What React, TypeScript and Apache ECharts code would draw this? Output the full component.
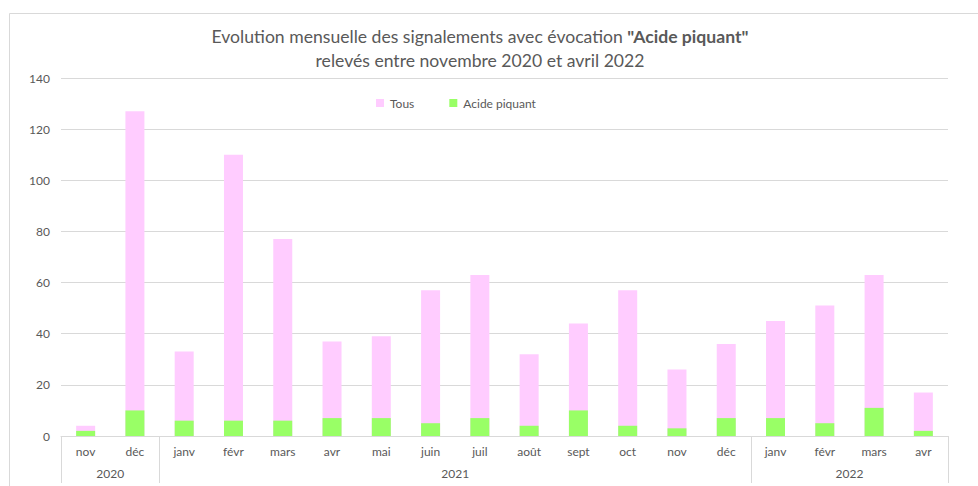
import React, { useEffect, useRef } from "react";
import * as echarts from "echarts";

const months = ["nov", "déc", "janv", "févr", "mars", "avr", "mai", "juin", "juil", "août", "sept", "oct", "nov", "déc", "janv", "févr", "mars", "avr"];
const yearLabels = ["2020", "2021", "2022"];
const yearSpans = [2, 12, 4];
const tousValues = [4, 127, 33, 110, 77, 37, 39, 57, 63, 32, 44, 57, 26, 36, 45, 51, 63, 17];
const acideValues = [2, 10, 6, 6, 6, 7, 7, 5, 7, 4, 10, 4, 3, 7, 7, 5, 11, 2];
const yTicks = { min: 0, max: 140, interval: 20 };

const FONT = "Lato, 'Liberation Sans', sans-serif";
const TEXT = "#595959";
const LINE = "#d9d9d9";

export default function App() {
  const ref = useRef<HTMLDivElement>(null);
  useEffect(() => {
    if (!ref.current) return;
    const chart = echarts.init(ref.current, undefined, { renderer: "svg" });
    const boundaries: number[] = [0];
    const centers: number[] = [];
    yearSpans.forEach((s) => {
      const start = boundaries[boundaries.length - 1];
      centers.push(start + s / 2);
      boundaries.push(start + s);
    });
    const total = months.length;
    chart.setOption({
      animation: false,
      textStyle: { fontFamily: FONT },
      title: {
        text: 'Evolution mensuelle des signalements avec évocation {b|"Acide piquant"}\nrelevés entre novembre 2020 et avril 2022',
        left: 480,
        top: 25,
        textAlign: "center",
        padding: 0,
        textStyle: {
          color: TEXT,
          fontFamily: FONT,
          fontSize: 17.6,
          fontWeight: "normal",
          lineHeight: 23.5,
          rich: {
            b: { fontFamily: FONT, fontSize: 17.6, fontWeight: "bold", color: TEXT, lineHeight: 23.5 },
          },
        },
      },
      legend: {
        left: 376,
        top: 97,
        padding: 0,
        itemGap: 35,
        itemWidth: 8,
        itemHeight: 8,
        icon: "rect",
        textStyle: { color: TEXT, fontFamily: FONT, fontSize: 12, padding: [0, 0, 0, 1] },
        data: ["Tous", "Acide piquant"],
      },
      graphic: [
        {
          type: "rect",
          shape: { x: 9.5, y: 13.5, width: 990, height: 490 },
          style: { fill: "none", stroke: LINE, lineWidth: 1 },
          silent: true,
        },
      ],
      grid: {
        left: 61,
        right: 30,
        top: 78,
        bottom: 50,
        containLabel: false,
        outerBoundsMode: "none",
      },
      xAxis: [
        {
          type: "category",
          data: months,
          position: "bottom",
          offset: 0,
          boundaryGap: true,
          axisLine: { show: true, lineStyle: { color: LINE, width: 1 } },
          axisTick: { show: false },
          axisLabel: { color: TEXT, fontFamily: FONT, fontSize: 12, margin: 9, interval: 0 },
          splitLine: { show: false },
        },
        {
          type: "value",
          min: 0,
          max: total,
          position: "bottom",
          offset: 0,
          axisLine: { show: false },
          axisTick: {
            show: true,
            length: 47,
            customValues: boundaries,
            lineStyle: { color: LINE, width: 1 },
          },
          axisLabel: {
            show: true,
            color: TEXT,
            fontFamily: FONT,
            fontSize: 12,
            margin: 31,
            customValues: centers,
            formatter: (v: number) => {
              const i = centers.findIndex((c) => Math.abs(c - v) < 1e-6);
              return i >= 0 ? yearLabels[i] : "";
            },
          },
          splitLine: { show: false },
        },
      ],
      yAxis: {
        type: "value",
        min: yTicks.min,
        max: yTicks.max,
        interval: yTicks.interval,
        axisLine: { show: false },
        axisTick: { show: false },
        axisLabel: { color: TEXT, fontFamily: FONT, fontSize: 12, margin: 11 },
        splitLine: { show: true, lineStyle: { color: LINE, width: 1 } },
      },
      series: [
        {
          name: "Tous",
          type: "bar",
          data: tousValues,
          barWidth: 19,
          itemStyle: { color: "#FFCCFF" },
        },
        {
          name: "Acide piquant",
          type: "bar",
          data: acideValues,
          barWidth: 19,
          barGap: "-100%",
          itemStyle: { color: "#99FF66" },
        },
      ],
    });
    return () => chart.dispose();
  }, []);
  return (
    <div
      ref={ref}
      style={{ position: "absolute", left: 0, top: 0, width: 978, height: 486, background: "#fff" }}
    />
  );
}
